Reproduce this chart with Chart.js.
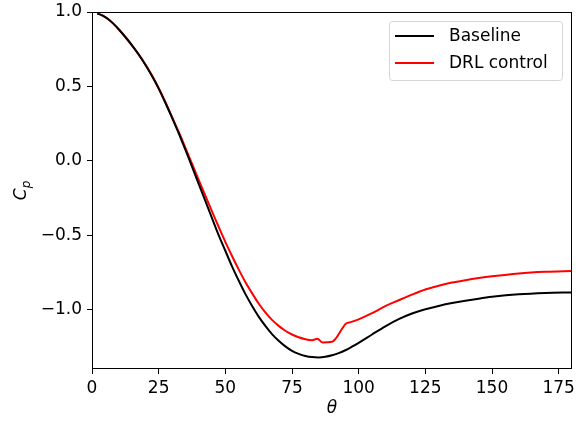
<!DOCTYPE html>
<html>
<head>
<meta charset="utf-8">
<script src="https://cdn.jsdelivr.net/npm/chart.js@4.4.1/dist/chart.umd.min.js"></script>
<style>
  body { margin: 0; background: #fff; }
  #cp-chart { display: block; }
</style>
</head>
<body>
<canvas id="cp-chart" width="576" height="423"></canvas>
<script>
"use strict";

const seriesNames = ["Baseline", "DRL control"];
const seriesColors = ["#000000", "#ff0000"];

const thetaBaseline = [2, 4, 6, 8, 10, 12.5, 15, 17.5, 20, 22.5, 25, 27.5, 30, 32.5, 35, 37.5, 40, 42.5, 45, 47.5, 50, 52.5, 55, 57.5, 60, 62.5, 65, 67.5, 70, 72.5, 75, 77.5, 80, 82.5, 85, 87.5, 90, 92.5, 95, 97.5, 100, 105, 110, 115, 120, 125, 130, 135, 140, 145, 150, 160, 170, 180];
const cpBaseline = [0.99, 0.976, 0.953, 0.922, 0.884, 0.832, 0.776, 0.714, 0.646, 0.57, 0.485, 0.39, 0.29, 0.185, 0.075, -0.04, -0.155, -0.27, -0.385, -0.5, -0.605, -0.71, -0.805, -0.895, -0.975, -1.048, -1.11, -1.165, -1.21, -1.248, -1.278, -1.298, -1.312, -1.32, -1.322, -1.318, -1.308, -1.293, -1.274, -1.25, -1.224, -1.168, -1.113, -1.065, -1.027, -0.998, -0.976, -0.957, -0.941, -0.927, -0.915, -0.898, -0.889, -0.885];

const thetaDrl = [2, 4, 6, 8, 10, 12.5, 15, 17.5, 20, 22.5, 25, 27.5, 30, 32.5, 35, 37.5, 40, 42.5, 45, 47.5, 50, 52.5, 55, 57.5, 60, 62.5, 65, 67.5, 70, 72.5, 75, 77.5, 80, 82.5, 84.5, 86.5, 90, 95.3, 97, 100, 105, 110, 115, 120, 125, 130, 135, 140, 145, 150, 160, 170, 180];
const cpDrl = [0.99, 0.976, 0.953, 0.922, 0.884, 0.832, 0.776, 0.715, 0.648, 0.573, 0.489, 0.395, 0.295, 0.195, 0.088, -0.02, -0.128, -0.235, -0.34, -0.445, -0.545, -0.64, -0.73, -0.815, -0.89, -0.96, -1.02, -1.07, -1.11, -1.143, -1.168, -1.187, -1.2, -1.206, -1.197, -1.222, -1.217, -1.094, -1.085, -1.066, -1.025, -0.977, -0.938, -0.9, -0.866, -0.84, -0.819, -0.803, -0.789, -0.777, -0.758, -0.747, -0.742];

const xTicks = [0, 25, 50, 75, 100, 125, 150, 175];
const yTicks = [-1.0, -0.5, 0.0, 0.5, 1.0];

const fontFamily = "'DejaVu Sans', sans-serif";

function toPoints(xs, ys) {
  return xs.map((x, i) => ({ x: x, y: ys[i] }));
}

function formatY(value) {
  const text = value.toFixed(1);
  return value < 0 ? "\u2212" + text.slice(1) : text;
}

// frame, legend box and axis titles, drawn the matplotlib way
const extrasPlugin = {
  id: "extras",
  afterDatasetsDraw(chart) {
    const ctx = chart.ctx;
    const area = chart.chartArea;
    ctx.save();

    ctx.strokeStyle = "#000";
    ctx.lineWidth = 1;
    ctx.strokeRect(area.left + 0.5, area.top + 0.5, area.right - area.left - 1, area.bottom - area.top - 1);

    // legend
    const boxX = 389.5;
    const boxY = 21.5;
    const boxW = 173;
    const boxH = 59;
    ctx.fillStyle = "rgba(255,255,255,0.8)";
    ctx.strokeStyle = "#d6d6d6";
    ctx.beginPath();
    ctx.roundRect(boxX, boxY, boxW, boxH, 3);
    ctx.fill();
    ctx.stroke();

    ctx.font = "17px " + fontFamily;
    ctx.textBaseline = "middle";
    ctx.textAlign = "left";
    seriesNames.forEach((name, i) => {
      const y = 36 + i * 27;
      ctx.strokeStyle = seriesColors[i];
      ctx.lineWidth = 2;
      ctx.beginPath();
      ctx.moveTo(395, y);
      ctx.lineTo(434, y);
      ctx.stroke();
      ctx.fillStyle = "#000";
      ctx.fillText(name, 449, y + 1);
    });

    // x title
    ctx.font = "italic 17px " + fontFamily;
    ctx.textAlign = "center";
    ctx.fillText("\u03b8", (area.left + area.right) / 2, 409);

    // y title: C with subscript p, rotated
    ctx.translate(22, (area.top + area.bottom) / 2);
    ctx.rotate(-Math.PI / 2);
    ctx.textAlign = "left";
    ctx.font = "italic 17px " + fontFamily;
    const cWidth = ctx.measureText("C").width;
    ctx.font = "italic 12px " + fontFamily;
    const pWidth = ctx.measureText("p").width;
    const startX = -(cWidth + pWidth) / 2;
    ctx.font = "italic 17px " + fontFamily;
    ctx.fillText("C", startX, 0);
    ctx.font = "italic 12px " + fontFamily;
    ctx.fillText("p", startX + cWidth, 5);

    ctx.restore();
  },
};

function drawChart() {
  const ctx = document.querySelector("#cp-chart").getContext("2d");
  const configuration = {
    type: "line",
    data: {
      datasets: [
        {
          label: seriesNames[0],
          data: toPoints(thetaBaseline, cpBaseline),
          borderColor: seriesColors[0],
          borderWidth: 2,
          pointRadius: 0,
          cubicInterpolationMode: "monotone",
        },
        {
          label: seriesNames[1],
          data: toPoints(thetaDrl, cpDrl),
          borderColor: seriesColors[1],
          borderWidth: 2,
          pointRadius: 0,
          cubicInterpolationMode: "monotone",
        },
      ],
    },
    options: {
      responsive: false,
      animation: false,
      devicePixelRatio: 1,
      layout: {
        padding: { top: 12, right: 4, left: 0, bottom: 0 },
      },
      plugins: {
        legend: { display: false },
        tooltip: { enabled: false },
      },
      scales: {
        x: {
          type: "linear",
          min: 0,
          max: 180,
          afterBuildTicks: (scale) => {
            scale.ticks = xTicks.map((v) => ({ value: v }));
          },
          afterFit: (scale) => {
            scale.height = 54;
            scale.paddingLeft = 0;
            scale.paddingRight = 0;
          },
          grid: {
            drawOnChartArea: false,
            color: "#000",
            tickLength: 5,
            tickWidth: 1,
          },
          border: { display: false },
          ticks: {
            color: "#000",
            padding: 4,
            maxRotation: 0,
            font: { family: fontFamily, size: 17 },
          },
        },
        y: {
          type: "linear",
          min: -1.4,
          max: 1.0,
          afterBuildTicks: (scale) => {
            scale.ticks = yTicks.map((v) => ({ value: v }));
          },
          afterFit: (scale) => {
            scale.width = 92;
            scale.paddingTop = 0;
            scale.paddingBottom = 0;
          },
          grid: {
            drawOnChartArea: false,
            color: "#000",
            tickLength: 5,
            tickWidth: 1,
          },
          border: { display: false },
          ticks: {
            color: "#000",
            padding: 5,
            font: { family: fontFamily, size: 17 },
            callback: (value) => formatY(value),
          },
        },
      },
    },
    plugins: [extrasPlugin],
  };
  return new Chart(ctx, configuration);
}

drawChart();
</script>
</body>
</html>
